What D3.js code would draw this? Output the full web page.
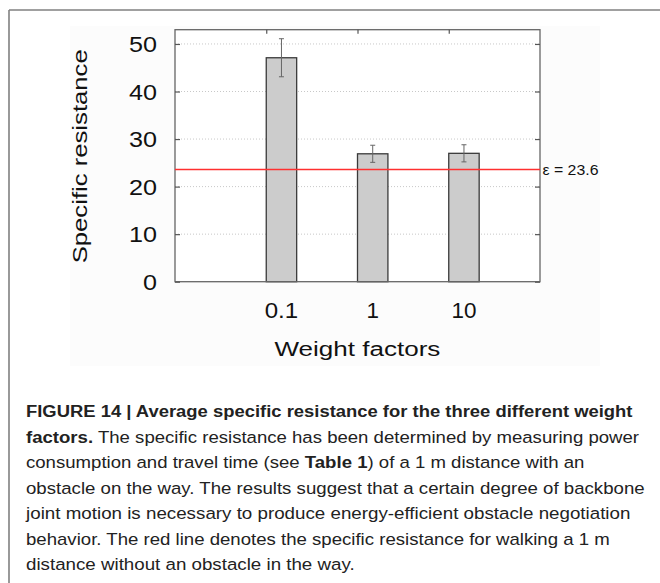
<!DOCTYPE html>
<html>
<head>
<meta charset="utf-8">
<script src="https://cdn.jsdelivr.net/npm/d3@7"></script>
<style>
  html, body { margin: 0; padding: 0; background: #fff; }
  svg { display: block; font-family: "Liberation Sans", Arial, Helvetica, sans-serif; }
</style>
</head>
<body>
<svg id="chart" width="660" height="583"></svg>
<script>
// ---- data ----
const categories = ["0.1", "1", "10"];
const means = [47.1, 26.9, 27.0];
const errors = [4.0, 1.8, 1.8];
const yTicks = [0, 10, 20, 30, 40, 50];
const referenceValue = 23.6;
const referenceLabel = "ε = 23.6";
const xTitle = "Weight factors";
const yTitle = "Specific resistance";
const captionLines = [
  [["FIGURE 14 | Average specific resistance for the three different weight", true]],
  [["factors.", true], [" The specific resistance has been determined by measuring power", false]],
  [["consumption and travel time (see ", false], ["Table 1", true], [") of a 1 m distance with an", false]],
  [["obstacle on the way. The results suggest that a certain degree of backbone", false]],
  [["joint motion is necessary to produce energy-efficient obstacle negotiation", false]],
  [["behavior. The red line denotes the specific resistance for walking a 1 m", false]],
  [["distance without an obstacle in the way.", false]]
];
const captionWidths = [607, 614, 559, 619, 606, 584, 329];

// ---- layout ----
const svg = d3.select("#chart");
const plot = { left: 175, right: 540, top: 29.7, bottom: 281.7 };

const x = d3.scaleLinear().domain([0, 4]).range([plot.left, plot.right]);
const y = d3.scaleLinear().domain([0, 53]).range([plot.bottom, plot.top]);
const boxW = 1 / 3;

function fitX(sel, target) {
  sel.each(function () {
    const node = this;
    const bb = node.getBBox();
    const anchor = node.getAttribute("text-anchor") || "start";
    let ax;
    if (anchor === "middle") ax = bb.x + bb.width / 2;
    else if (anchor === "end") ax = bb.x + bb.width;
    else ax = bb.x;
    const s = target / bb.width;
    d3.select(node).attr("transform", `translate(${ax},0) scale(${s},1) translate(${-ax},0)`);
  });
}

// frame of figure
svg.append("line").attr("x1", 9).attr("x2", 660).attr("y1", 10).attr("y2", 10)
  .attr("stroke", "#808080").attr("stroke-width", 1.6);
svg.append("line").attr("x1", 9).attr("x2", 9).attr("y1", 10).attr("y2", 583)
  .attr("stroke", "#808080").attr("stroke-width", 1.6);

// faint panel background
svg.append("rect").attr("x", 70).attr("y", 26).attr("width", 530).attr("height", 340)
  .attr("fill", "#fcfcfc");
svg.append("rect").attr("x", plot.left).attr("y", plot.top)
  .attr("width", plot.right - plot.left).attr("height", plot.bottom - plot.top)
  .attr("fill", "#ffffff");

// grid lines
svg.append("g").selectAll("line").data(yTicks.filter(d => d > 0)).join("line")
  .attr("x1", plot.left).attr("x2", plot.right)
  .attr("y1", d => y(d)).attr("y2", d => y(d))
  .attr("stroke", "#c8c8c8").attr("stroke-width", 1).attr("stroke-dasharray", "1,2");

// bars
svg.append("g").selectAll("rect").data(means).join("rect")
  .attr("x", (d, i) => x(i + 1))
  .attr("width", x(1 + boxW) - x(1))
  .attr("y", d => y(d))
  .attr("height", d => y(0) - y(d))
  .attr("fill", "#cccccc").attr("stroke", "#3a3a3a").attr("stroke-width", 1.3);

// error bars
const eb = svg.append("g").attr("stroke", "#666").attr("stroke-width", 1);
means.forEach((m, i) => {
  const cx = x(i + 1 + boxW / 2);
  eb.append("line").attr("x1", cx).attr("x2", cx).attr("y1", y(m + errors[i])).attr("y2", y(m - errors[i]));
  eb.append("line").attr("x1", cx - 2.5).attr("x2", cx + 2.5).attr("y1", y(m + errors[i])).attr("y2", y(m + errors[i]));
  eb.append("line").attr("x1", cx - 2.5).attr("x2", cx + 2.5).attr("y1", y(m - errors[i])).attr("y2", y(m - errors[i]));
});

// plot border
svg.append("rect").attr("x", plot.left).attr("y", plot.top)
  .attr("width", plot.right - plot.left).attr("height", plot.bottom - plot.top)
  .attr("fill", "none").attr("stroke", "#666").attr("stroke-width", 1.3);

// axes ticks via d3 axes (inward)
const yAxisL = d3.axisLeft(y).tickValues(yTicks).tickSize(-5).tickFormat("");
const yAxisR = d3.axisRight(y).tickValues(yTicks).tickSize(-5).tickFormat("");
const xAxisT = d3.axisTop(x).tickValues([1, 2, 3]).tickSize(-4).tickFormat("");
[svg.append("g").attr("transform", `translate(${plot.left},0)`).call(yAxisL),
 svg.append("g").attr("transform", `translate(${plot.right},0)`).call(yAxisR),
 svg.append("g").attr("transform", `translate(0,${plot.top})`).call(xAxisT)].forEach(g => {
  g.select(".domain").remove();
  g.selectAll(".tick line").attr("stroke", "#555").attr("stroke-width", 1.2);
});

// y tick labels
svg.append("g").selectAll("text").data(yTicks).join("text")
  .attr("x", 157).attr("y", d => y(d) + 8)
  .attr("text-anchor", "end").attr("font-size", 22).attr("fill", "#111")
  .text(d => d)
  .each(function (d) { fitX(d3.select(this), String(d).length === 1 ? 14 : 28); });

// x tick labels
svg.append("g").selectAll("text").data(categories).join("text")
  .attr("x", (d, i) => x(i + 1 + boxW / 2)).attr("y", 318.5)
  .attr("text-anchor", "middle").attr("font-size", 22).attr("fill", "#111")
  .text(d => d)
  .each(function (d) { fitX(d3.select(this), d.length * 12.5 - (d.indexOf(".") >= 0 ? 4 : 0)); });

// reference line
svg.append("line").attr("x1", plot.left).attr("x2", plot.right)
  .attr("y1", y(referenceValue)).attr("y2", y(referenceValue))
  .attr("stroke", "#ff3030").attr("stroke-width", 1.3);
svg.append("text").attr("x", 542.5).attr("y", y(referenceValue) + 5.5)
  .attr("font-size", 15).attr("fill", "#111").text(referenceLabel)
  .call(sel => fitX(sel, 56));

// axis titles
svg.append("text").attr("x", 357.4).attr("y", 356)
  .attr("text-anchor", "middle").attr("font-size", 21).attr("fill", "#111")
  .text(xTitle).call(sel => fitX(sel, 166));

svg.append("text").attr("text-anchor", "middle")
  .attr("font-size", 21).attr("fill", "#111")
  .attr("transform", "translate(86.5,156.3) rotate(-90)")
  .attr("textLength", 214).attr("lengthAdjust", "spacingAndGlyphs")
  .text(yTitle);

// caption
const cap = svg.append("g").attr("fill", "#222").attr("font-size", 17);
captionLines.forEach((segs, i) => {
  const t = cap.append("text").attr("x", 26).attr("y", 417.5 + i * 25.5);
  segs.forEach(([s, b]) => {
    t.append("tspan").attr("font-weight", b ? "bold" : "normal").text(s);
  });
  fitX(t, captionWidths[i]);
});
</script>
</body>
</html>
